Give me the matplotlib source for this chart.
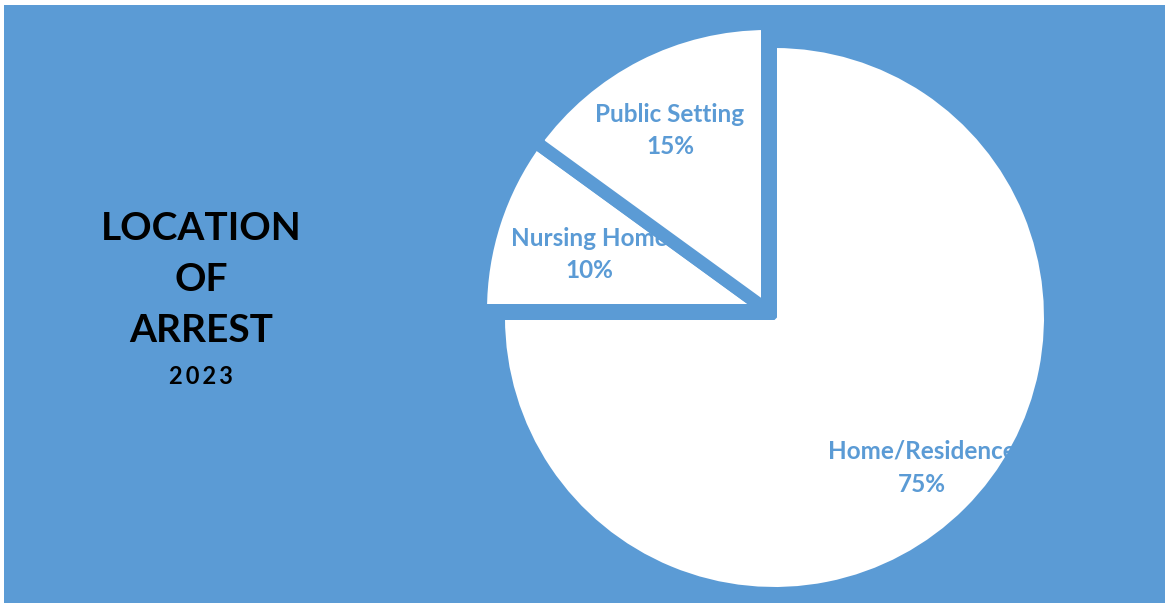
import matplotlib.pyplot as plt
from matplotlib.patches import Rectangle

BLUE = "#5B9BD5"

labels = ["Home/Residence", "Nursing Home", "Public Setting"]
shares = [75, 10, 15]
title_lines = ["LOCATION", "OF", "ARREST"]
year = "2023"

W, H = 1167, 605
DPI = 100
px = 72.0 / DPI  # one pixel in points

fig = plt.figure(figsize=(W / DPI, H / DPI), dpi=DPI)
ax = fig.add_axes([0, 0, 1, 1])

# blue card behind everything
ax.add_patch(Rectangle((4, 2), 1161, 598, facecolor=BLUE, edgecolor="none", zorder=0))

wedges, _ = ax.pie(shares, startangle=90, counterclock=False,
                   colors=["white"] * 3, radius=287, center=(767.5, H - 310.5),
                   wedgeprops=dict(edgecolor=BLUE, linewidth=13 * px, joinstyle="bevel"),
                   frame=True)
ax.set_xlim(0, W)
ax.set_ylim(0, H)
ax.set_aspect("equal")
ax.axis("off")

# the big slice sits back in place, the two small ones stay pulled out
wedges[0].set_center((774.5, H - 317.5))
wedges[0].set_radius(272)
wedges[0].set_linewidth(5 * px)

label_pos = [(922, 451), (589, 238), (670, 114)]
for name, val, (x, y) in zip(labels, shares, label_pos):
    ax.text(x, H - y, name, ha="center", va="center", color=BLUE,
            fontsize=17.5, fontweight="bold", family="Lato", zorder=5)
    ax.text(x, H - y - 33, f"{val}%", ha="center", va="center", color=BLUE,
            fontsize=17.5, fontweight="bold", family="Lato", zorder=5)

for i, line in enumerate(title_lines):
    ax.text(201, H - 228 - i * 51.5, line, ha="center", va="center",
            color="black", fontsize=28, fontweight="bold", family="Lato")
ax.text(201, H - 376, "\u2009".join(year), ha="center", va="center",
        color="black", fontsize=17, fontweight="bold", family="Lato")

fig.savefig("out.png", dpi=DPI)
